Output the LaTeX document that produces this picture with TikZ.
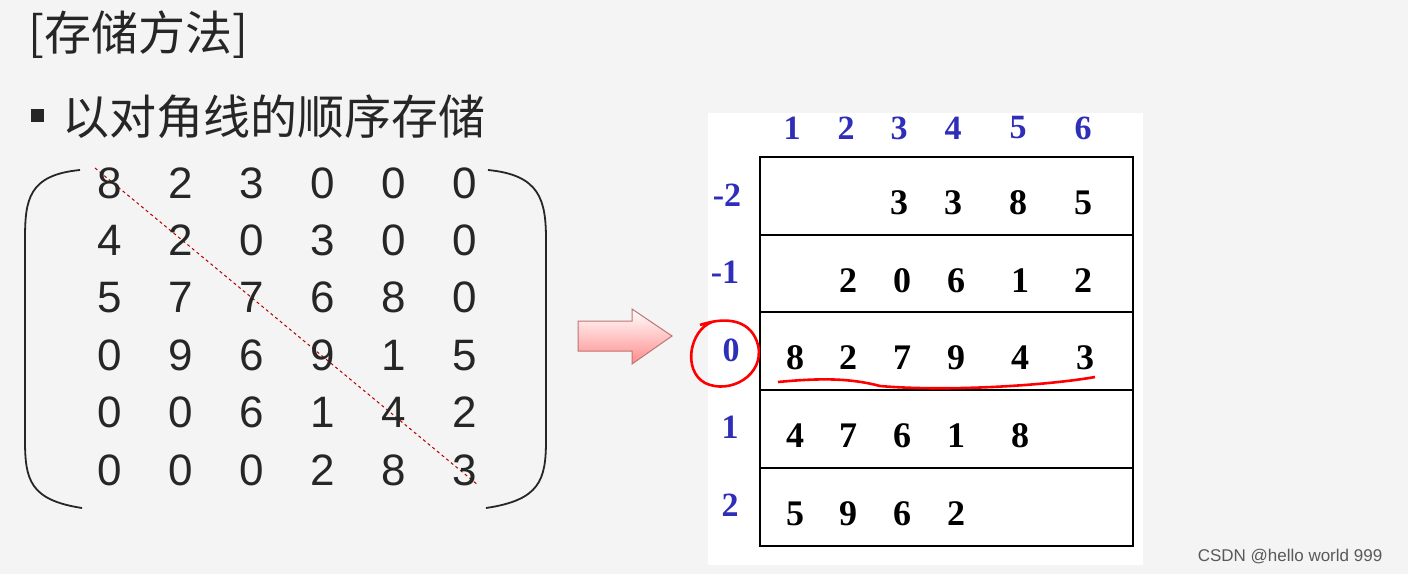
\documentclass[tikz,border=0pt]{standalone}
\usepackage{fontspec}
\setmainfont{Liberation Serif}
\newfontfamily\cjk{Noto Sans CJK SC}
\newfontfamily\lsans{Liberation Sans}
\definecolor{bg}{HTML}{F4F4F4}
\definecolor{tx}{HTML}{262626}
\definecolor{hdr}{HTML}{2E2EB8}
\tikzset{
 mnum/.style={font=\lsans\fontsize{44}{44}\selectfont, text=tx, anchor=center},
 tnum/.style={font=\bfseries\fontsize{36}{36}\selectfont, anchor=center},
 hnum/.style={font=\bfseries\fontsize{34}{34}\selectfont, text=hdr, anchor=center},
 cjkt/.style={font=\cjk\fontsize{47}{47}\selectfont, text=tx, anchor=west, inner sep=0pt},
 redmark/.style={red, line width=2.6pt},
}
\begin{document}
\begin{tikzpicture}[x=1pt,y=-1pt]
\fill[bg] (0,0) rectangle (1408,574);
\useasboundingbox (0,0) rectangle (1408,574);
\fill[white] (708,113) rectangle (1143,565);
\node[cjkt] (title) at (28,35) {[存储方法]};
\fill[tx] (31,109) rectangle (44,122);
\node[cjkt] (sub) at (62,117) {以对角线的顺序存储};
% parens
\draw[tx, line width=1.8pt] (80,170) .. controls (28,175) and (25,200) .. (25,240) -- (25,440) .. controls (25,480) and (30,500) .. (82,508);
\draw[tx, line width=1.8pt] (488,170) .. controls (540,175) and (546,200) .. (546,240) -- (546,440) .. controls (546,480) and (540,500) .. (486,508);
\draw[red!70!black, dashed, line width=1pt] (95,168) -- (478,485);
\foreach \r [count=\i] in {{8,2,3,0,0,0},{4,2,0,3,0,0},{5,7,7,6,8,0},{0,9,6,9,1,5},{0,0,6,1,4,2},{0,0,0,2,8,3}}{
 \foreach \v [count=\j] in \r {
  \pgfmathsetmacro{\xx}{110+70.9*(\j-1)}
  \pgfmathsetmacro{\yy}{183+57.4*(\i-1)}
  \node[mnum] (m\i\j) at (\xx,\yy) {\v};
 }}
% arrow
\draw[red!55!black!55, line width=1pt, top color=white, bottom color=red!45]
 (578,321) -- (632,321) -- (632,309) -- (672,336) -- (632,364) -- (632,351) -- (578,351) -- cycle;
% table
\draw[black, line width=1.5pt] (760,157) rectangle (1133,546);
\foreach \y in {235,312,390,468} \draw[black, line width=1.5pt] (760,\y) -- (1133,\y);
\foreach \v/\x in {1/792,2/846,3/899,4/953,5/1018,6/1083} \node[hnum] (h\v) at (\x,128) {\v};
\foreach \v/\x/\y/\n in {-2/727/195/a,-1/725/272/b,0/731/350/c,1/730/427/d,2/730/505/e} \node[hnum] (r\n) at (\x,\y) {\v};
\foreach \v/\x/\y [count=\k] in {3/899/203,3/953/203,8/1018/203,5/1083/203,
 2/848/281,0/902/281,6/956/281,1/1020/281,2/1083/281,
 8/795/358,2/848/358,7/902/358,9/956/358,4/1020/358,3/1085/358,
 4/795/436,7/848/436,6/902/436,1/956/436,8/1020/436,
 5/795/514,9/848/514,6/902/514,2/956/514}
 \node[tnum] (t\k) at (\x,\y) {\v};
% red marks
\draw[redmark] (712,322) .. controls (690,330) and (682,370) .. (705,383) .. controls (730,395) and (765,375) .. (758,345) .. controls (752,322) and (730,315) .. (700,325);
\draw[redmark] (778,382) .. controls (820,378) and (850,378) .. (880,386) .. controls (950,392) and (1050,385) .. (1095,377);
\node[font=\lsans\fontsize{17}{17}\selectfont, text=gray!70!black] (wm) at (1290,557) {CSDN @hello world 999};
\end{tikzpicture}
\end{document}
